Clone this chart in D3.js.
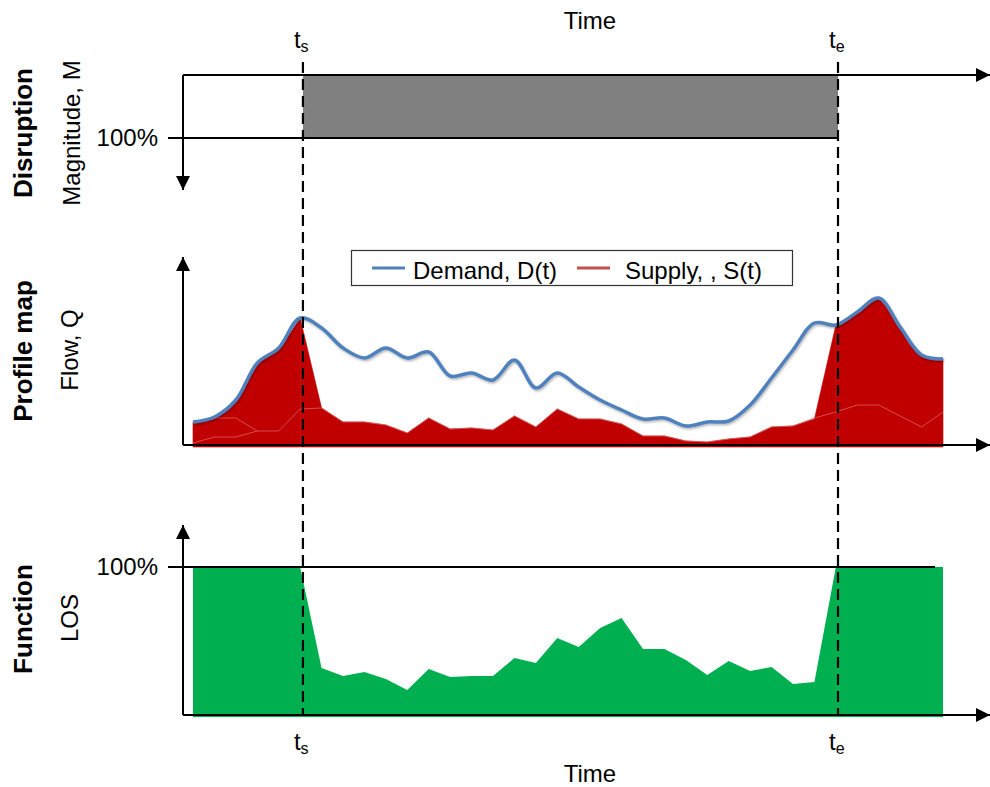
<!DOCTYPE html>
<html><head><meta charset="utf-8">
<script src="https://cdn.jsdelivr.net/npm/d3@7"></script>
<style>
body{margin:0;background:#fff}
svg{display:block;font-family:"Liberation Sans",Arial,sans-serif}
</style>
</head><body>
<svg id="chart" width="990" height="787"></svg>
<script>
// ---------------- DATA ----------------
const times = [0,1,2,3,4,5,6,7,8,9,10,11,12,13,14,15,16,17,18,19,20,21,22,23,24,25,26,27,28,29,30,31,32,33,34,35];
const demand = [23,28,45,82,97,127,117,97,87,97,87,93,69,72,65,85,57,72,58,45,35,26,27,19,23,24,40,67,95,122,120,133,147,118,90,86];
// flow actually served during the disruption (time steps 6..29)
const servedDuring = [37,23,23,20,12,27,16,17,15,29,18,36,26,26,21,9,9,4,3,6,8,18,19,26];
const supplyLine = [2,8,8,14,14,36,37,23,23,20,12,27,16,17,15,29,18,36,26,26,21,9,9,4,3,6,8,18,19,27,33,40,40,29,18,33];
const supplyLine2 = [23,27,27,14];
const los = [100,100,100,100,100,100,31.8,26.4,29.1,24.3,16.9,31.1,25.7,26.4,26.4,38.5,35.1,52.0,45.9,58.8,65.5,44.6,44.6,37.2,27.0,36.5,29.7,32.4,20.9,22.3,100,100,100,100,100,100];
const tStart = 5.13, tEnd = 30.1;
const disruptionMagnitude = 100;
const legendLabels = ["Demand, D(t)", "Supply, , S(t)"];
const percentLabel = "100%";
const timeLabel = "Time";
const panelTitles = ["Disruption","Profile map","Function"];
const panelAxes = ["Magnitude, M","Flow, Q","LOS"];

// ---------------- LAYOUT ----------------
const svg = d3.select("#chart");
const axisLeft = 183, axisRightTip = 990;
const x = d3.scaleLinear().domain([0,35]).range([193,943]);
const mag = d3.scaleLinear().domain([0,100]).range([75,138]);
const flow = d3.scaleLinear().domain([0,190]).range([445,255]);
const losY = d3.scaleLinear().domain([0,100]).range([715,567]);

const defs = svg.append("defs");
const f = defs.append("filter").attr("id","sh").attr("x","-5%").attr("y","-20%").attr("width","110%").attr("height","140%");
f.append("feDropShadow").attr("dx",1).attr("dy",1.5).attr("stdDeviation",1.2).attr("flood-color","#000").attr("flood-opacity",0.3);

function arrow(x1,y1,x2,y2){
  svg.append("line").attr("x1",x1).attr("y1",y1).attr("x2",x2).attr("y2",y2)
    .attr("stroke","#000").attr("stroke-width",2);
  const ang = Math.atan2(y2-y1,x2-x1), L=14, W=7;
  const bx = x2 - L*Math.cos(ang), by = y2 - L*Math.sin(ang);
  const px = -Math.sin(ang)*W, py = Math.cos(ang)*W;
  svg.append("path").attr("d",`M${x2},${y2}L${bx+px},${by+py}L${bx-px},${by-py}Z`).attr("fill","#000");
}

// ---------- Disruption panel ----------
svg.append("rect").attr("x",x(tStart)).attr("y",mag(0)).attr("width",x(tEnd)-x(tStart))
  .attr("height",mag(disruptionMagnitude)-mag(0)).attr("fill","#808080");
svg.append("line").attr("x1",168).attr("x2",x(tEnd)).attr("y1",mag(disruptionMagnitude)).attr("y2",mag(disruptionMagnitude))
  .attr("stroke","#000").attr("stroke-width",2);
arrow(axisLeft,mag(0),axisRightTip,mag(0));
arrow(axisLeft,mag(0),axisLeft,190);
svg.append("text").attr("x",158).attr("y",mag(disruptionMagnitude)).attr("dy","0.35em").attr("text-anchor","end")
  .attr("font-size",24).text(percentLabel);

// ---------- Profile map panel ----------
const redTop = times.map(i => (i < 6 || i > 29) ? demand[i] : servedDuring[i-6]);
const curve = d3.curveCatmullRom.alpha(0.5);
const areaCurve = d3.area().x(i=>x(i)).y0(flow(0)+2).y1(i=>flow(redTop[i])).curve(curve);
const areaLin = d3.area().x(i=>x(i)).y0(flow(0)+2).y1(i=>flow(redTop[i]));
svg.append("path").attr("d",areaCurve(times.filter(i=>i<=5))).attr("fill","#C00000").attr("stroke","#C00000").attr("stroke-width",0.6);
svg.append("path").attr("d",areaLin(times.filter(i=>i>=5&&i<=30))).attr("fill","#C00000").attr("stroke","#C00000").attr("stroke-width",0.6);
svg.append("path").attr("d",areaCurve(times.filter(i=>i>=30))).attr("fill","#C00000").attr("stroke","#C00000").attr("stroke-width",0.6);

const thin = d3.line().x((d,i)=>x(i)).y(d=>flow(d));
svg.append("path").attr("d",thin(supplyLine)).attr("fill","none").attr("stroke","#DA6060").attr("stroke-width",1).attr("opacity",0.8);
svg.append("path").attr("d",thin(supplyLine2)).attr("fill","none").attr("stroke","#DA6060").attr("stroke-width",1).attr("opacity",0.8);

arrow(axisLeft,flow(0),axisRightTip,flow(0));
arrow(axisLeft,flow(0),axisLeft,257);

const demandLine = d3.line().x((d,i)=>x(i)).y(d=>flow(d)).curve(curve);
svg.append("path").attr("d",demandLine(demand)).attr("fill","none").attr("stroke","#4F81BD")
  .attr("stroke-width",3.5).attr("stroke-linejoin","round").attr("filter","url(#sh)");

// legend
const lg = svg.append("g");
lg.append("rect").attr("x",351.5).attr("y",250.5).attr("width",441).attr("height",35).attr("fill","#fff").attr("stroke","#333").attr("stroke-width",1.2);
lg.append("line").attr("x1",372).attr("x2",405).attr("y1",268).attr("y2",268).attr("stroke","#4F81BD").attr("stroke-width",3);
lg.append("text").attr("x",413).attr("y",279).attr("font-size",24).text(legendLabels[0]);
lg.append("line").attr("x1",577).attr("x2",610).attr("y1",268).attr("y2",268).attr("stroke","#C0504D").attr("stroke-width",3);
lg.append("text").attr("x",625).attr("y",279).attr("font-size",24).text(legendLabels[1]);

// ---------- Function panel ----------
const losArea = d3.area().x((d,i)=>x(i)).y0(losY(0)+2).y1(d=>losY(d));
svg.append("path").attr("d",losArea(los)).attr("fill","#00B050");
svg.append("line").attr("x1",168).attr("x2",935).attr("y1",losY(100)).attr("y2",losY(100)).attr("stroke","#000").attr("stroke-width",2);
arrow(axisLeft,losY(0),axisRightTip,losY(0));
arrow(axisLeft,losY(0),axisLeft,525);
svg.append("text").attr("x",158).attr("y",losY(100)).attr("dy","0.35em").attr("text-anchor","end")
  .attr("font-size",24).text(percentLabel);

// ---------- ts / te dashed lines ----------
[tStart,tEnd].forEach(t=>{
  svg.append("line").attr("x1",x(t)).attr("x2",x(t)).attr("y1",62).attr("y2",losY(0))
    .attr("stroke","#000").attr("stroke-width",2.2).attr("stroke-dasharray","11,6");
});
function tLabel(t,sub,y){
  const tx = svg.append("text").attr("x",x(t)-9).attr("y",y).attr("font-size",24);
  tx.append("tspan").text("t");
  tx.append("tspan").attr("font-size",16).attr("dy",4).text(sub);
}
tLabel(tStart,"s",48); tLabel(tEnd,"e",48);
tLabel(tStart,"s",750); tLabel(tEnd,"e",750);

svg.append("text").attr("x",590).attr("y",29).attr("text-anchor","middle").attr("font-size",24).text(timeLabel);
svg.append("text").attr("x",590).attr("y",782).attr("text-anchor","middle").attr("font-size",24).text(timeLabel);

// ---------- side labels ----------
const centersY = [133,351,619];
panelTitles.forEach((s,k)=>{
  svg.append("text").attr("transform",`translate(23,${centersY[k]}) rotate(-90)`).attr("dy","0.35em")
    .attr("text-anchor","middle").attr("font-weight","bold").attr("font-size",26).text(s);
});
const axCenters = [[72,133],[70,350],[70,618]];
panelAxes.forEach((s,k)=>{
  svg.append("text").attr("transform",`translate(${axCenters[k][0]},${axCenters[k][1]}) rotate(-90)`).attr("dy","0.35em")
    .attr("text-anchor","middle").attr("font-size",24).text(s);
});
</script>
</body></html>
